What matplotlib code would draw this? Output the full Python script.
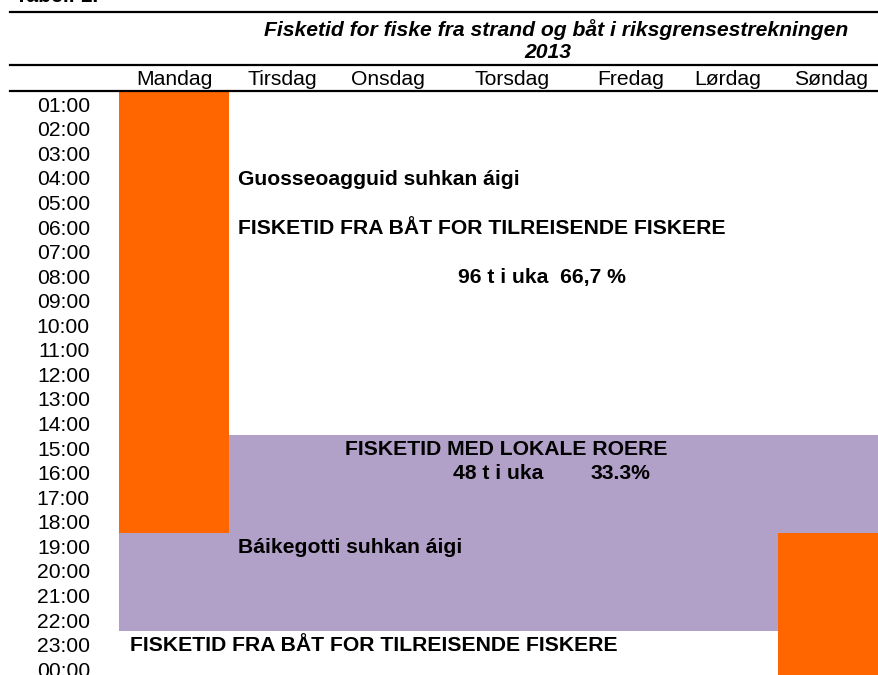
import matplotlib
matplotlib.use("Agg")
import matplotlib.pyplot as plt
from matplotlib.lines import Line2D

plt.rcParams['font.family'] = ['Liberation Sans', 'DejaVu Sans']

# ---- data ----
days = ["Mandag", "Tirsdag", "Onsdag", "Torsdag", "Fredag", "Lørdag", "Søndag"]
hours = ["01:00", "02:00", "03:00", "04:00", "05:00", "06:00", "07:00", "08:00",
         "09:00", "10:00", "11:00", "12:00", "13:00", "14:00", "15:00", "16:00",
         "17:00", "18:00", "19:00", "20:00", "21:00", "22:00", "23:00", "00:00"]
# blocks: (first day idx, last day idx, first hour row, last hour row (inclusive), kind)
block_day_from = [0, 1, 0, 6]
block_day_to = [0, 6, 5, 6]
block_row_from = [0, 14, 18, 18]
block_row_to = [17, 21, 21, 23]
block_kind = ["tilreisende", "lokale", "lokale", "tilreisende"]

title_line1 = "Fisketid for fiske fra strand og båt i riksgrensestrekningen"
title_line2 = "2013"
table_label = "Tabell 1."

# ---- layout / style ----
W, H = 879, 675
col_edges = [119, 229, 335, 440, 585, 677, 778, 884]
row_top_px = 91
row_h = 24.56
colors = {"tilreisende": "#FF6600", "lokale": "#B1A0C7"}
fs = 15.2

fig = plt.figure(figsize=(W / 100, H / 100), dpi=100)
ax = fig.add_axes([col_edges[0] / W, 0, (W - col_edges[0]) / W, (H - row_top_px) / H])
ax.set_xlim(col_edges[0], W)
ax.set_ylim((H - row_top_px) / row_h, 0)
for s in ax.spines.values():
    s.set_visible(False)

for d0, d1, r0, r1, k in zip(block_day_from, block_day_to, block_row_from, block_row_to, block_kind):
    x0 = col_edges[d0]
    x1 = col_edges[d1 + 1]
    ax.bar(x0, (r1 + 1) - r0, width=x1 - x0, bottom=r0, align='edge',
           color=colors[k], linewidth=0, clip_on=False)

# y labels (times)
ax.set_yticks([i + 0.54 for i in range(len(hours))])
ax.set_yticklabels(hours, fontsize=fs)
ax.tick_params(axis='y', length=0, pad=(col_edges[0] - 90) * 0.72)

# x labels (days) on top
centers = [(col_edges[i] + col_edges[i + 1]) / 2 for i in range(len(days))]
ax.set_xticks(centers)
ax.set_xticklabels(days, fontsize=fs)
ax.xaxis.tick_top()
ax.tick_params(axis='x', length=0, pad=1.2)

# annotations inside the grid
cap_off = 7.6 / row_h


def label(x, row, txt):
    ax.text(x, row + 0.5 + cap_off, txt, fontsize=fs, fontweight='bold',
            va='baseline', ha='left')


label(238, 3, "Guosseoagguid suhkan áigi")
label(238, 5, "FISKETID FRA BÅT FOR TILREISENDE FISKERE")
label(458, 7, "96 t i uka  66,7 %")
label(345, 14, "FISKETID MED LOKALE ROERE")
label(453, 15, "48 t i uka")
label(591, 15, "33.3%")
label(238, 18, "Báikegotti suhkan áigi")
label(130, 22, "FISKETID FRA BÅT FOR TILREISENDE FISKERE")

# title
fig.text(556 / W, 1 - 36 / H, title_line1, fontsize=fs, fontweight='bold', fontstyle='italic',
         ha='center', va='baseline')
fig.text(548 / W, 1 - 58 / H, title_line2, fontsize=fs, fontweight='bold', fontstyle='italic',
         ha='center', va='baseline')
fig.text(15 / W, 1 - 2 / H, table_label, fontsize=fs, fontweight='bold', ha='left', va='baseline')

# horizontal rules
for ypx in [12, 65, 91]:
    fig.add_artist(Line2D([10 / W, 1], [1 - ypx / H, 1 - ypx / H], color='black', lw=1.6,
                          transform=fig.transFigure))

fig.savefig("out.png", dpi=100)
